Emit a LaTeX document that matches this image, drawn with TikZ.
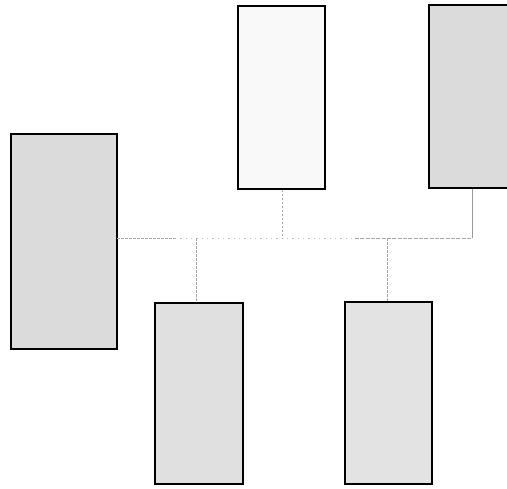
\documentclass[tikz,border=0pt]{standalone}
\begin{document}
\begin{tikzpicture}[x=0.75pt,y=-0.75pt,
  box/.style={draw=black,line width=1.2pt,anchor=north west,inner sep=0pt},
  wire/.style={draw=gray!70,line width=0.6pt},
  faint/.style={draw=gray!50,line width=0.6pt,dash pattern=on 1pt off 3pt}]
\useasboundingbox (0,0) rectangle (507,489);
\clip (0,0) rectangle (507,489);
\node[box,fill=gray!28,minimum width=79.5pt,minimum height=161.25pt] (L) at (10,133) {};
\node[box,fill=gray!5,minimum width=65.25pt,minimum height=137.25pt] (TM) at (237,5) {};
\node[box,fill=gray!28,minimum width=67.5pt,minimum height=137.25pt] (TR) at (428,4) {};
\node[box,fill=gray!24,minimum width=66pt,minimum height=135.75pt] (BL) at (154,302) {};
\node[box,fill=gray!22,minimum width=65.25pt,minimum height=136.5pt] (BR) at (344,301) {};
\coordinate (h0) at (117,238);
\coordinate (h1) at (175,238);
\coordinate (h2) at (355,238);
\coordinate (jTM) at (282,238);
\coordinate (jTR) at (472,238);
\coordinate (jBL) at (196,238);
\coordinate (jBR) at (387,238);
\draw[wire,dash pattern=on 2pt off 1pt] (h0) -- (h1);
\draw[faint] (h1) -- (h2);
\draw[wire,dash pattern=on 3pt off 1pt] (h2) -- (jTR);
\draw[wire,dash pattern=on 2pt off 1pt] (TM.south -| jTM) -- (jTM);
\draw[wire,draw=gray!80] (TR.south -| jTR) -- (jTR);
\draw[wire,dash pattern=on 2pt off 1pt] (jBL) -- (BL.north -| jBL);
\draw[wire,dash pattern=on 2pt off 1pt] (jBR) -- (BR.north -| jBR);
\end{tikzpicture}
\end{document}
